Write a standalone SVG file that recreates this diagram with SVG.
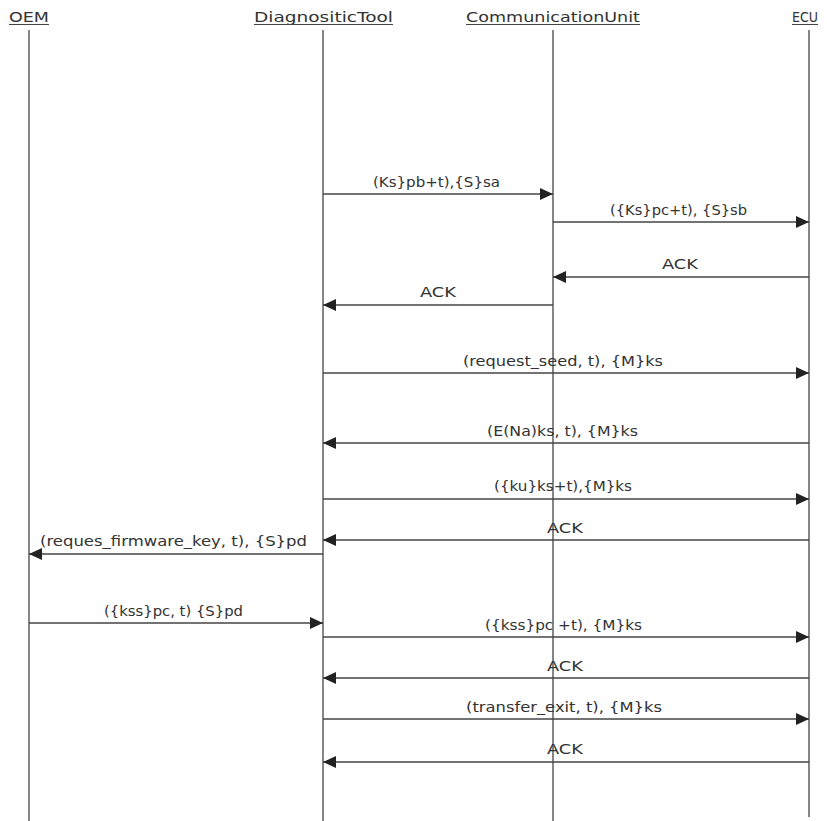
<svg xmlns="http://www.w3.org/2000/svg" width="827" height="821" viewBox="0 0 827 821">
<style>
.lb{font-family:"DejaVu Sans","Liberation Sans",sans-serif;font-size:13.5px;fill:#333}
.life{stroke:#444;stroke-width:1.3;fill:none}
.msg{stroke:#444;stroke-width:1.3;fill:none;marker-end:url(#ah)}
.ul{stroke:#444;stroke-width:1}
</style>
<defs>
<marker id="ah" markerUnits="userSpaceOnUse" markerWidth="14" markerHeight="12" refX="13" refY="6" orient="auto">
<path d="M0,0 L13,6 L0,12 z" fill="#222"/>
</marker>
</defs>
<g id="OEM">
<text class="lb" x="9" y="22" textLength="40" lengthAdjust="spacingAndGlyphs">OEM</text>
<line class="ul" x1="9" y1="24.5" x2="49" y2="24.5"/>
<line class="life" x1="29" y1="30" x2="29" y2="821"/>
</g>
<g id="DiagnositicTool">
<text class="lb" x="254" y="22" textLength="139" lengthAdjust="spacingAndGlyphs">DiagnositicTool</text>
<line class="ul" x1="254" y1="24.5" x2="393" y2="24.5"/>
<line class="life" x1="323" y1="30" x2="323" y2="821"/>
</g>
<g id="CommunicationUnit">
<text class="lb" x="466" y="22" textLength="174" lengthAdjust="spacingAndGlyphs">CommunicationUnit</text>
<line class="ul" x1="466" y1="24.5" x2="640" y2="24.5"/>
<line class="life" x1="553" y1="30" x2="553" y2="821"/>
</g>
<g id="ECU">
<text class="lb" x="792" y="22" style="font-size:14.5px" textLength="26" lengthAdjust="spacingAndGlyphs">ECU</text>
<line class="ul" x1="792" y1="24.5" x2="818" y2="24.5"/>
<line class="life" x1="809" y1="30" x2="809" y2="817"/>
</g>
<g id="connectors">
<line class="msg" x1="323" y1="194" x2="553" y2="194"/>
<text class="lb" x="373" y="187" textLength="127" lengthAdjust="spacingAndGlyphs">(Ks}pb+t),{S}sa</text>
<line class="msg" x1="553" y1="222" x2="809" y2="222"/>
<text class="lb" x="610" y="215" textLength="137" lengthAdjust="spacingAndGlyphs">({Ks}pc+t), {S}sb</text>
<line class="msg" x1="809" y1="277" x2="553" y2="277"/>
<text class="lb" x="662" y="269" textLength="36" lengthAdjust="spacingAndGlyphs">ACK</text>
<line class="msg" x1="553" y1="305" x2="323" y2="305"/>
<text class="lb" x="420" y="297" textLength="36" lengthAdjust="spacingAndGlyphs">ACK</text>
<line class="msg" x1="323" y1="373" x2="809" y2="373"/>
<text class="lb" x="463" y="366" textLength="200" lengthAdjust="spacingAndGlyphs">(request_seed, t), {M}ks</text>
<line class="msg" x1="809" y1="443" x2="323" y2="443"/>
<text class="lb" x="487" y="436" textLength="151" lengthAdjust="spacingAndGlyphs">(E(Na)ks, t), {M}ks</text>
<line class="msg" x1="323" y1="499" x2="809" y2="499"/>
<text class="lb" x="494" y="491" textLength="138" lengthAdjust="spacingAndGlyphs">({ku}ks+t),{M}ks</text>
<line class="msg" x1="809" y1="540" x2="323" y2="540"/>
<text class="lb" x="547" y="533" textLength="36" lengthAdjust="spacingAndGlyphs">ACK</text>
<line class="msg" x1="323" y1="554" x2="29" y2="554"/>
<text class="lb" x="40" y="546" textLength="267" lengthAdjust="spacingAndGlyphs">(reques_firmware_key, t), {S}pd</text>
<line class="msg" x1="29" y1="623" x2="323" y2="623"/>
<text class="lb" x="104" y="616" textLength="139" lengthAdjust="spacingAndGlyphs">({kss}pc, t) {S}pd</text>
<line class="msg" x1="323" y1="637" x2="809" y2="637"/>
<text class="lb" x="485" y="630" textLength="157" lengthAdjust="spacingAndGlyphs">({kss}pc +t), {M}ks</text>
<line class="msg" x1="809" y1="678" x2="323" y2="678"/>
<text class="lb" x="547" y="671" textLength="36" lengthAdjust="spacingAndGlyphs">ACK</text>
<line class="msg" x1="323" y1="719" x2="809" y2="719"/>
<text class="lb" x="466" y="712" textLength="196" lengthAdjust="spacingAndGlyphs">(transfer_exit, t), {M}ks</text>
<line class="msg" x1="809" y1="762" x2="323" y2="762"/>
<text class="lb" x="547" y="754" textLength="36" lengthAdjust="spacingAndGlyphs">ACK</text>
</g>
</svg>
